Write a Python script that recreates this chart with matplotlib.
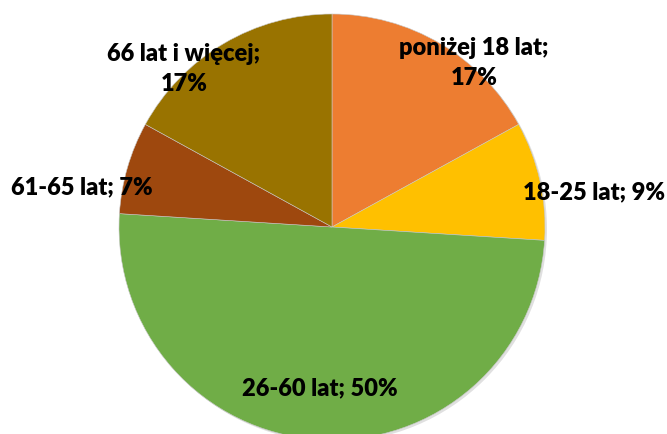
import matplotlib.pyplot as plt
from matplotlib.patches import Circle

# data
categories = ['poniżej 18 lat', '18-25 lat', '26-60 lat', '61-65 lat', '66 lat i więcej']
shares = [17, 9, 50, 7, 17]
colors = ['#ED7D31', '#FFC000', '#70AD47', '#9E480E', '#997300']

fig = plt.figure(figsize=(6.67, 4.34), dpi=100)
ax = fig.add_axes([0, 0, 1, 1])
ax.set_xlim(0, 667)
ax.set_ylim(0, 434)
ax.set_aspect('equal')

# soft shadow under the pie
ax.add_patch(Circle((334, 205), 213, color='#000000', alpha=0.12, lw=0, zorder=0))

wedges, _ = ax.pie(shares, colors=colors, startangle=90, counterclock=False,
                   center=(332, 207), radius=213, frame=True,
                   wedgeprops=dict(linewidth=0.4, edgecolor='#c8c8c8'))
ax.axis('off')

# label text and positions
label_text = ['poniżej 18 lat;\n17%', '18-25 lat; 9%', '26-60 lat; 50%',
              '61-65 lat; 7%', '66 lat i więcej;\n17%']
label_pos = [(474, 371), (594, 242), (320, 46), (82, 247), (184, 365)]
for txt, (x, y) in zip(label_text, label_pos):
    ax.text(x, y, txt, ha='center', va='center', fontsize=17, fontweight='heavy',
            family='Lato', linespacing=1.45, color='black')

fig.savefig('out.png', dpi=100)
